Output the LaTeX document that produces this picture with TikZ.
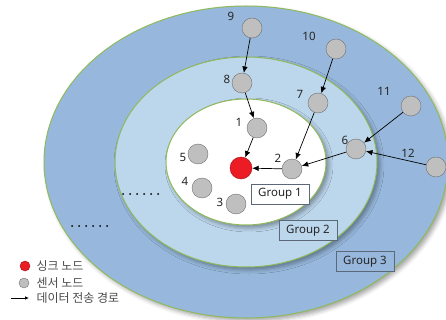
\documentclass[tikz,border=0pt]{standalone}
\usepackage{fontspec}
\setmainfont{Noto Sans}
\newfontfamily\krfont{Noto Sans CJK KR}
\usepackage{tikz}
\usetikzlibrary{arrows.meta,shadows.blur}
\definecolor{wsnouter}{HTML}{97B8DC}
\definecolor{wsnmiddle}{HTML}{BCD6EC}
\definecolor{wsnedge}{HTML}{8FBA5C}
\definecolor{wsngray}{HTML}{BFBFBF}
\definecolor{wsngrayedge}{HTML}{707070}
\definecolor{wsnred}{HTML}{EC1C24}
\definecolor{wsnrededge}{HTML}{A01218}
\definecolor{wsnbox}{HTML}{5A6878}
\definecolor{wsntext}{HTML}{262626}
\definecolor{wsnlegend}{HTML}{4A4A4A}

\begin{document}
\begin{tikzpicture}[x=1pt,y=-1pt,font=\fontsize{11.5}{13}\selectfont,
  sensor/.style={circle,draw=wsngrayedge,fill=wsngray,minimum size=20pt,inner sep=0pt},
  sinknode/.style={circle,draw=wsnrededge,fill=wsnred,minimum size=22pt,inner sep=0pt},
  grouptag/.style={draw=wsnbox,line width=0.6pt,minimum width=58pt,minimum height=20pt,inner sep=0pt,text=wsntext},
  flow/.style={-{Latex[length=6.5pt,width=5.5pt]},black,line width=0.7pt},
  legtext/.style={anchor=west,text=wsnlegend,font=\krfont\fontsize{12}{14}\selectfont}]
  \useasboundingbox (0,0) rectangle (446,320);
  \clip (0,0) rectangle (446,320);
  % groups
  \filldraw[fill=wsnouter,draw=wsnedge,line width=1pt,blur shadow={shadow xshift=3pt,shadow yshift=-3pt,shadow blur radius=4pt,shadow opacity=35}]
    (246,162) ellipse [x radius=202pt,y radius=156pt];
  \filldraw[fill=wsnmiddle,draw=wsnedge,line width=1pt,blur shadow={shadow xshift=3pt,shadow yshift=-3pt,shadow blur radius=4pt,shadow opacity=35}]
    (246,162) ellipse [x radius=131pt,y radius=105pt];
  \filldraw[fill=white,draw=wsnedge,line width=1pt,blur shadow={shadow xshift=3pt,shadow yshift=-3pt,shadow blur radius=4pt,shadow opacity=35}]
    (246,162) ellipse [x radius=80pt,y radius=63pt];
  \foreach \k in {0,...,5} {
    \fill[black] (123+7*\k,194) circle (1pt);
    \fill[black] (72+7*\k,226) circle (1pt);
  }
  % nodes
  \node[sinknode] (sink) at (241,168) {};
  \foreach \n/\x/\y/\lx/\ly in {1/257/128/239/122,2/292/169/278/158,3/236/204/220/202,
      4/202/188/185/181,5/198/154/183/157,6/356/149/345/140,7/318/103/300/94,
      8/242/83/227/79,9/252/28/231/16,10/336/49/309/36,11/411/106/384/91,12/436/167/408/153} {
    \node[sensor] (s\n) at (\x,\y) {};
    \node[text=wsntext] (l\n) at (\lx,\ly) {\n};
  }
  \node[grouptag,fill=white] (g1) at (280,194) {Group 1};
  \node[grouptag,fill=wsnmiddle] (g2) at (308,230.5) {Group 2};
  \node[grouptag,fill=wsnouter] (g3) at (365,261.5) {Group 3};
  % data paths
  \draw[flow] (s9) -- (s8);
  \draw[flow] (s8) -- (s1);
  \draw[flow] (s1) -- (sink);
  \draw[flow] (s10) -- (s7);
  \draw[flow] (s7) -- (s2);
  \draw[flow] (s2) -- (sink);
  \draw[flow] (s11) -- (s6);
  \draw[flow] (s12) -- (s6);
  \draw[flow] (s6) -- (s2);
  % legend
  \node[circle,draw=wsnrededge,fill=wsnred,minimum size=10pt,inner sep=0pt] (legsink) at (25,266) {};
  \node[circle,draw=wsngrayedge,fill=wsngray,minimum size=10pt,inner sep=0pt] (legsensor) at (24,283) {};
  \coordinate (legA) at (11,298);
  \coordinate (legB) at (29,298);
  \draw[flow,-{Latex[length=4pt,width=3.5pt]}] (legA) -- (legB);
  \node[legtext] (legsinktext) at (33,266) {싱크 노드};
  \node[legtext] (legsensortext) at (33,283) {센서 노드};
  \node[legtext] (legpathtext) at (33,298) {데이터 전송 경로};
\end{tikzpicture}
\end{document}
